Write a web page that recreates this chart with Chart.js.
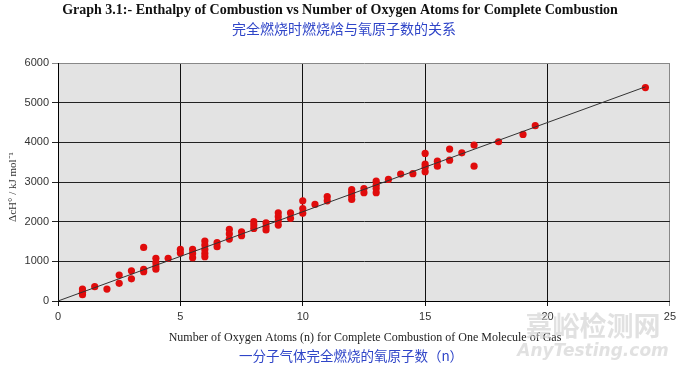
<!DOCTYPE html>
<html>
<head>
<meta charset="utf-8">
<script src="https://cdn.jsdelivr.net/npm/chart.js@4.4.0/dist/chart.umd.min.js"></script>
<style>
  html, body { margin: 0; padding: 0; background: #fff; }
  #wrap { width: 680px; height: 368px; position: relative; }
</style>
</head>
<body>
<div id="wrap"><canvas id="chart" width="680" height="368"></canvas></div>
<script>
// Oxygen atoms (n) and enthalpy of combustion (kJ/mol)
const oxygenAtoms = [
  1, 1, 1, 1.5, 2, 2.5, 2.5, 3, 3,
  3.5, 3.5, 3.5, 4, 4, 4, 4, 4.5, 5, 5,
  5.5, 5.5, 5.5, 6, 6, 6, 6, 6, 6.5, 6.5,
  7, 7, 7, 7.5, 7.5, 8, 8, 8, 8.5, 8.5, 8.5,
  9, 9, 9, 9, 9.5, 9.5, 10, 10, 10, 10.5, 11, 11,
  12, 12, 12, 12, 12.5, 12.5, 13, 13, 13, 13, 13.5, 14, 14.5,
  15, 15, 15, 15, 15.5, 15.5, 16, 16, 16.5, 17, 17,
  18, 19, 19.5, 24
];
const enthalpy = [
  300, 220, 160, 360, 300, 655, 445, 760, 560,
  1350, 800, 740, 1075, 965, 865, 800, 1075, 1300, 1210,
  1300, 1200, 1090, 1510, 1410, 1300, 1200, 1115, 1470, 1370,
  1805, 1690, 1560, 1745, 1645, 2000, 1915, 1830, 1970, 1870, 1790,
  2225, 2125, 2020, 1915, 2220, 2085, 2525, 2330, 2210, 2435, 2630, 2525,
  2810, 2730, 2645, 2560, 2835, 2730, 3020, 2920, 2835, 2730, 3065, 3200, 3210,
  3720, 3450, 3375, 3260, 3525, 3400, 3830, 3550, 3735, 3930, 3400,
  4015, 4200, 4420, 5380
];

// Trend line end points
const fitX = [0, 24];
const fitY = [0, 5400];

const xTicks = [0, 5, 10, 15, 20, 25];
const yTicks = [0, 1000, 2000, 3000, 4000, 5000, 6000];

const titleText = "Graph 3.1:- Enthalpy of Combustion vs Number of Oxygen Atoms for Complete Combustion";
const subtitleText = "完全燃烧时燃烧焓与氧原子数的关系";
const xTitleText = "Number of Oxygen Atoms (n) for Complete Combustion of One Molecule of Gas";
const xTitleCn = "一分子气体完全燃烧的氧原子数（n）";

const framePlugin = {
  id: "frame",
  beforeDraw(chart) {
    const { ctx, chartArea: a } = chart;
    ctx.save();
    ctx.fillStyle = "#e3e3e3";
    ctx.fillRect(a.left, a.top, a.right - a.left, a.bottom - a.top);
    ctx.restore();
  },
  afterDraw(chart) {
    const { ctx } = chart;
    ctx.save();
    // titles
    ctx.textAlign = "center";
    ctx.textBaseline = "middle";
    ctx.fillStyle = "#111";
    ctx.font = "bold 14px 'Liberation Serif', 'Times New Roman', serif";
    ctx.fillText(titleText, 340, 10);
    ctx.fillStyle = "#2f45c8";
    ctx.font = "14px 'Noto Sans CJK SC', sans-serif";
    ctx.fillText(subtitleText, 344, 29);

    // x axis titles
    ctx.fillStyle = "#222";
    ctx.font = "12px 'Liberation Serif', 'Times New Roman', serif";
    ctx.fillText(xTitleText, 365, 338);
    ctx.fillStyle = "#2f45c8";
    ctx.font = "13.5px 'Noto Sans CJK SC', sans-serif";
    ctx.fillText(xTitleCn, 351, 356);

    // y axis title
    ctx.save();
    ctx.translate(13, 187);
    ctx.rotate(-Math.PI / 2);
    ctx.fillStyle = "#333";
    ctx.font = "11px 'Liberation Serif', 'Times New Roman', serif";
    ctx.fillText("ΔcH° / kJ mol⁻¹", 0, 0);
    ctx.restore();

    // watermark
    ctx.fillStyle = "rgba(205,205,205,0.6)";
    ctx.font = "bold 27px 'Noto Sans CJK SC', sans-serif";
    ctx.fillText("嘉峪检测网", 593, 326);
    ctx.font = "italic bold 17px 'DejaVu Sans', sans-serif";
    ctx.fillText("AnyTesting.com", 593, 352);
    ctx.restore();
  }
};

new Chart(document.getElementById("chart").getContext("2d"), {
  type: "scatter",
  data: {
    datasets: [
      {
        type: "line",
        label: "Trend",
        data: fitX.map((x, i) => ({ x, y: fitY[i] })),
        borderColor: "#333",
        borderWidth: 1,
        pointRadius: 0,
        fill: false,
        order: 0,
      },
      {
        label: "Gases",
        data: oxygenAtoms.map((x, i) => ({ x, y: enthalpy[i] })),
        backgroundColor: "#e00c0c",
        borderColor: "#e00c0c",
        pointRadius: 3.6,
        pointBorderWidth: 0,
        order: 1,
      },
    ],
  },
  options: {
    responsive: false,
    animation: false,
    devicePixelRatio: 1,
    layout: { padding: { top: 63, right: 7, left: 0, bottom: 0 } },
    plugins: { legend: { display: false }, tooltip: { enabled: false }, title: { display: false } },
    scales: {
      x: {
        type: "linear",
        min: 0, max: 25,
        afterBuildTicks: s => { s.ticks = xTicks.map(v => ({ value: v })); },
        afterFit: s => { s.height = 67; },
        grid: {
          color: c => c.tick && c.tick.value === 25 ? "#888" : "#111",
          lineWidth: 1,
          tickLength: 5,
        },
        border: { color: "#000", width: 1 },
        ticks: {
          color: "#333",
          padding: 4,
          callback: v => String(v),
          font: { family: "'Liberation Sans', Arial, sans-serif", size: 11 },
        },
      },
      y: {
        type: "linear",
        min: 0, max: 6000,
        afterBuildTicks: s => { s.ticks = yTicks.map(v => ({ value: v })); },
        afterFit: s => { s.width = 58; },
        grid: {
          color: c => c.tick && c.tick.value === 6000 ? "#888" : "#222",
          lineWidth: 1,
          tickLength: 6,
        },
        border: { color: "#000", width: 1 },
        ticks: {
          color: "#333",
          padding: 3,
          callback: v => String(v),
          font: { family: "'Liberation Sans', Arial, sans-serif", size: 11 },
        },
      },
    },
  },
  plugins: [framePlugin],
});
</script>
</body>
</html>
